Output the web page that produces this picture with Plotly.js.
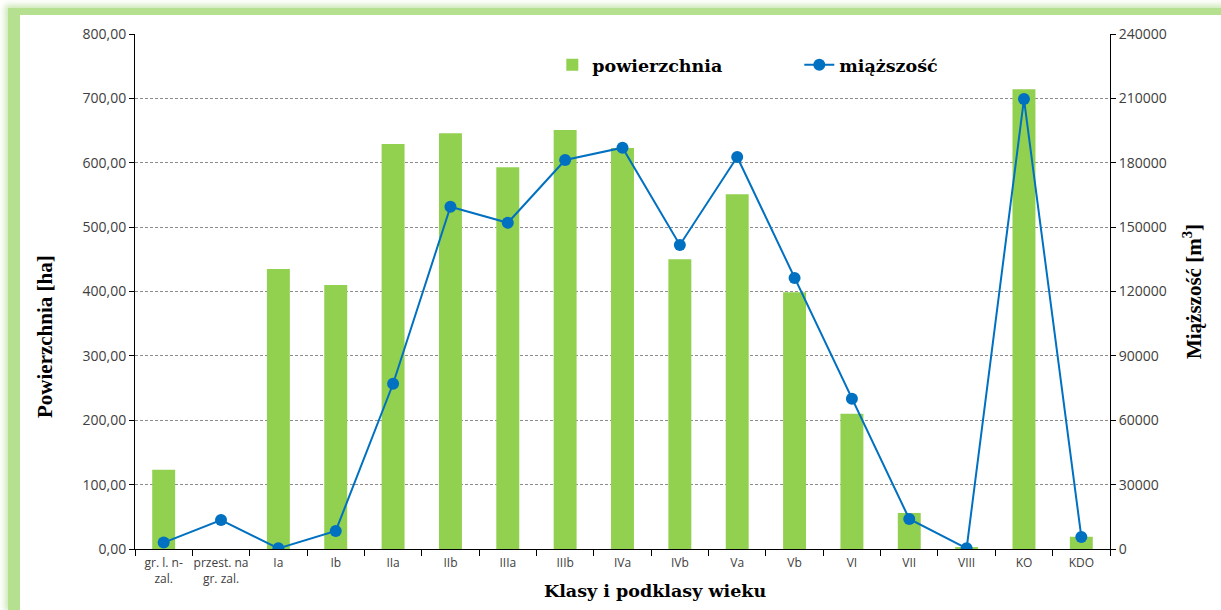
<!DOCTYPE html>
<html>
<head>
<meta charset="utf-8">
<script src="https://cdn.plot.ly/plotly-3.0.1.min.js"></script>
<style>
  html, body { margin: 0; padding: 0; background: #ffffff; width: 1221px; height: 610px; overflow: hidden; }
  #frame { position: absolute; left: 8px; top: 8px; width: 1240px; height: 597px;
           border-left: 12px solid #b5e08f; border-top: 7px solid #b5e08f; border-bottom: 2px solid #dff0cf;
           box-shadow: -3px -3px 6px rgba(170,215,130,0.6); background: #ffffff; }
  #chart { position: absolute; left: 0; top: 0; width: 1221px; height: 610px; }
</style>
</head>
<body>
<div id="frame"></div>
<div id="chart"></div>
<script>
const categories = ["gr. l. n-<br>zal.", "przest. na<br>gr. zal.", "Ia", "Ib", "IIa", "IIb", "IIIa", "IIIb", "IVa", "IVb", "Va", "Vb", "VI", "VII", "VIII", "KO", "KDO"];
const powierzchnia = [123, 0, 435, 410, 629, 646, 593, 651, 623, 450, 551, 399, 210, 56, 3, 714, 19];
const miazszosc = [3000, 13500, 300, 8400, 77000, 159500, 152000, 181300, 187000, 141700, 182700, 126300, 70000, 14000, 300, 209700, 5600];
const xTitle = "Klasy i podklasy wieku";
const yTitle = "Powierzchnia [ha]";
const y2Title = "Miąższość [m<sup>3</sup>]";

const axisFont = {family: "Open Sans, DejaVu Sans, sans-serif", size: 14, color: "#404040"};
const xTitleFont = {family: "DejaVu Serif, serif", size: 17.5, color: "#000000", weight: "bold"};
const yTitleFont = {family: "Liberation Serif, serif", size: 21, color: "#000000", weight: "bold"};

const traces = [
  {
    type: "bar", name: "<b>powierzchnia</b>", x: categories, y: powierzchnia,
    marker: {color: "#92d050"}, yaxis: "y"
  },
  {
    type: "scatter", mode: "lines+markers", name: "<b>miąższość</b>", x: categories, y: miazszosc,
    line: {color: "#0070c0", width: 2}, marker: {color: "#0070c0", size: 12}, yaxis: "y2"
  }
];

const layout = {
  width: 1221, height: 610,
  paper_bgcolor: "rgba(0,0,0,0)", plot_bgcolor: "rgba(0,0,0,0)",
  margin: {l: 135, r: 111, t: 34, b: 61},
  separators: ",.",
  bargap: 0.6,
  showlegend: true,
  legend: {
    orientation: "h", x: 0.428, y: 0.94, xanchor: "left", yanchor: "middle",
    font: {family: "DejaVu Serif, serif", size: 17.5, color: "#000"},
    bgcolor: "rgba(0,0,0,0)", entrywidth: 202, entrywidthmode: "pixels"
  },
  xaxis: {
    type: "category", range: [-0.5, 16.5], tickangle: 0,
    tickfont: {family: "Open Sans, DejaVu Sans, sans-serif", size: 12, color: "#404040"},
    ticklabelstandoff: 3,
    showline: true, linecolor: "#000", linewidth: 1,
    ticks: "outside", tickson: "boundaries", ticklen: 6, tickcolor: "#000",
    showgrid: false, zeroline: false
  },
  yaxis: {
    range: [0, 800], dtick: 100, tickformat: ".2f", tickfont: axisFont,
    showline: true, linecolor: "#000", linewidth: 1,
    ticks: "outside", ticklen: 5, tickcolor: "#000",
    showgrid: true, gridcolor: "#8c8c8c", griddash: "3px,2px", gridwidth: 1,
    zeroline: false
  },
  yaxis2: {
    overlaying: "y", side: "right",
    range: [0, 240000], dtick: 30000, tickformat: "d", tickfont: axisFont,
    showline: true, linecolor: "#000", linewidth: 1,
    ticks: "outside", ticklen: 5, tickcolor: "#000",
    showgrid: false, zeroline: false,
    title: {text: y2Title, font: yTitleFont, standoff: 20}
  },
  annotations: [
    {text: "<b>" + xTitle + "</b>", xref: "paper", yref: "paper",
     x: (655 - 135) / 975, y: -(591 - 549) / 515, xanchor: "center", yanchor: "middle",
     showarrow: false, font: xTitleFont},
    {text: "<b>" + yTitle + "</b>", xref: "paper", yref: "paper", textangle: -90,
     x: (45 - 135) / 975, y: (549 - 337) / 515, xanchor: "center", yanchor: "middle",
     showarrow: false, font: yTitleFont}
  ]
};

Plotly.newPlot("chart", traces, layout, {displayModeBar: false, staticPlot: true});
</script>
</body>
</html>
